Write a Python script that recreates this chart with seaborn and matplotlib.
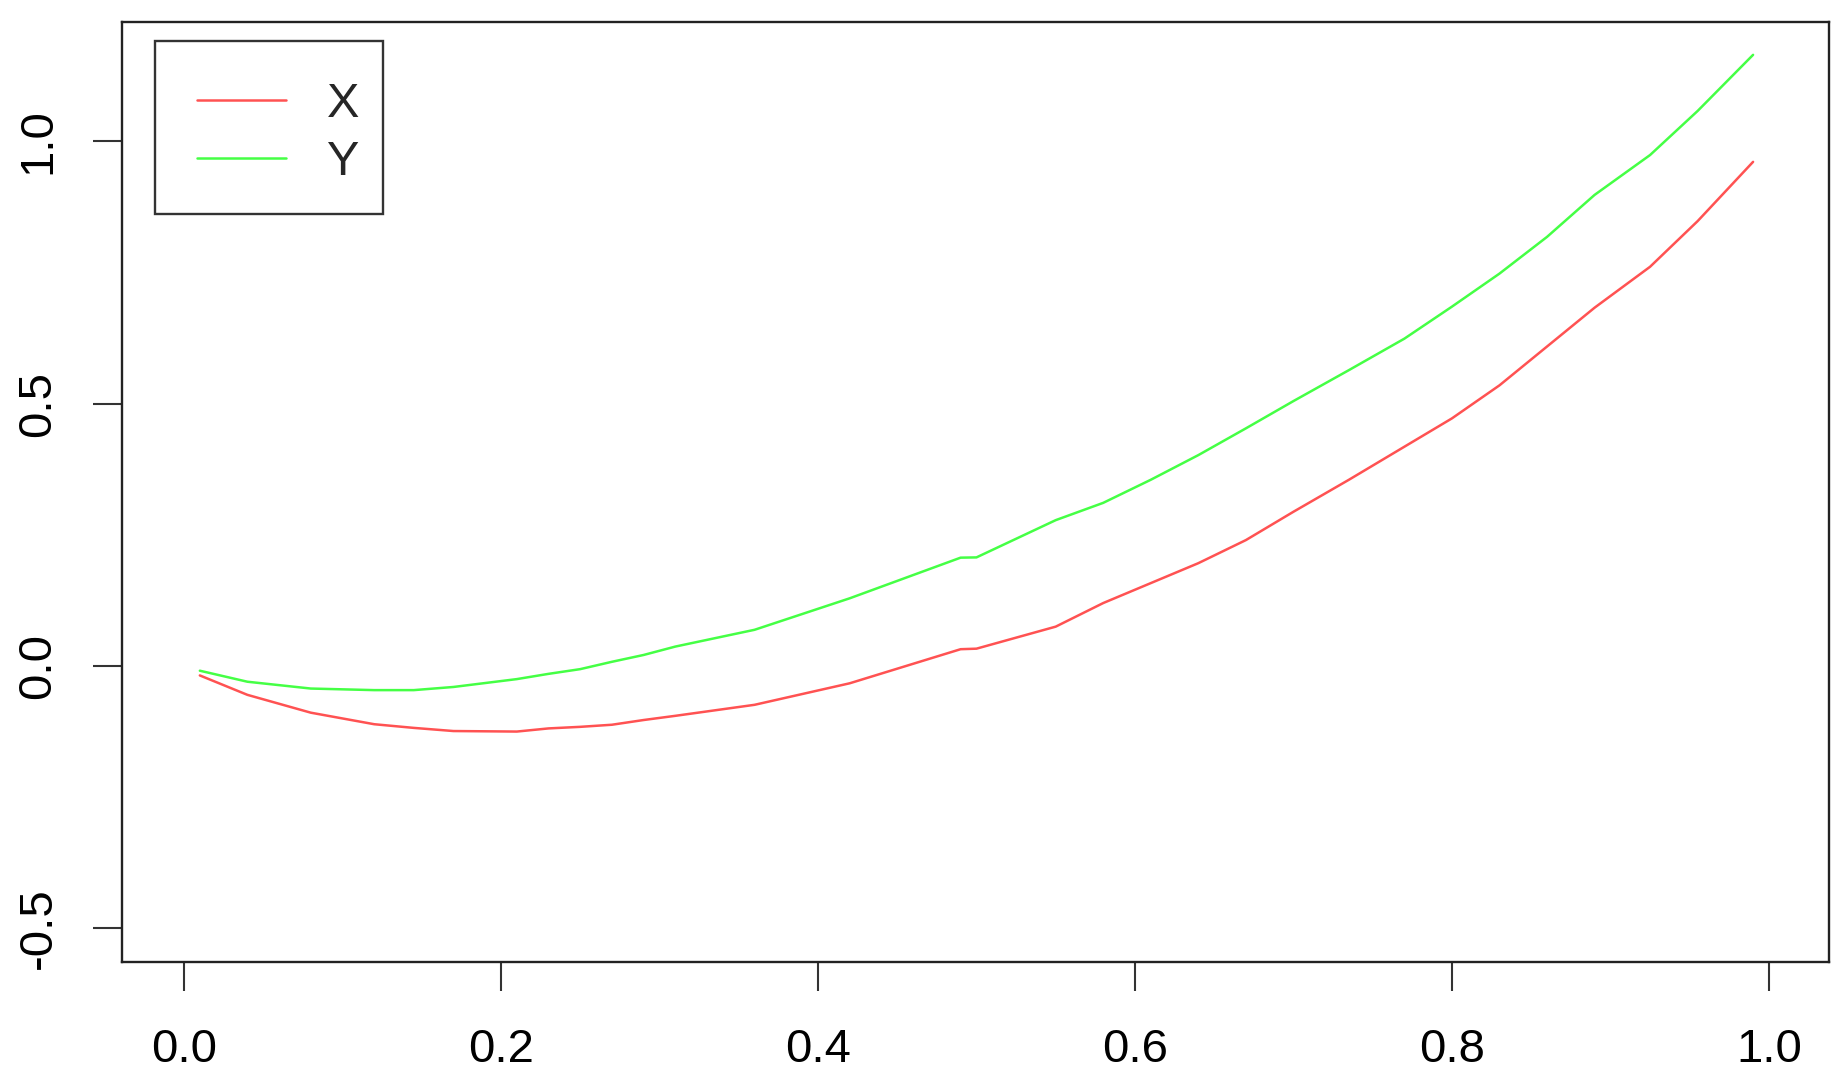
import numpy as np
import pandas as pd
import matplotlib
matplotlib.use("Agg")
import matplotlib.pyplot as plt
import seaborn as sns
from matplotlib.lines import Line2D
from matplotlib.patches import Rectangle

# ---- data ----
x_vals = [0.01, 0.04, 0.08, 0.12, 0.145, 0.17, 0.21, 0.23, 0.25, 0.27, 0.29, 0.31,
          0.36, 0.42, 0.49, 0.50, 0.55, 0.58, 0.61, 0.64, 0.67, 0.70, 0.735, 0.77,
          0.80, 0.83, 0.86, 0.89, 0.925, 0.955, 0.99]
x_series = [-0.018, -0.055, -0.089, -0.111, -0.118, -0.124, -0.125, -0.119, -0.116, -0.112,
            -0.103, -0.095, -0.074, -0.033, 0.032, 0.033, 0.075, 0.120, 0.158, 0.196,
            0.240, 0.294, 0.355, 0.418, 0.472, 0.535, 0.609, 0.683, 0.761, 0.848, 0.961]
y_series = [-0.009, -0.030, -0.043, -0.046, -0.046, -0.040, -0.025, -0.015, -0.006, 0.008,
            0.021, 0.037, 0.069, 0.129, 0.2065, 0.207, 0.278, 0.311, 0.355, 0.402,
            0.453, 0.505, 0.564, 0.624, 0.685, 0.748, 0.818, 0.898, 0.974, 1.058, 1.165]
series_names = ["X", "Y"]
x_ticks = [0.0, 0.2, 0.4, 0.6, 0.8, 1.0]
x_tick_labels = ["0.0", "0.2", "0.4", "0.6", "0.8", "1.0"]
y_ticks = [-0.5, 0.0, 0.5, 1.0]
y_tick_labels = ["-0.5", "0.0", "0.5", "1.0"]

df = pd.DataFrame({
    "x": x_vals * 2,
    "value": x_series + y_series,
    "series": [series_names[0]] * len(x_vals) + [series_names[1]] * len(x_vals),
})

sns.set_style("white")
plt.rcParams["font.family"] = ["Liberation Sans", "DejaVu Sans"]

W, H = 1847, 1086
fig = plt.figure(figsize=(W / 100, H / 100), dpi=100)
left, right, top, bottom = 121.7, 1829, 22, 961.7
ax = fig.add_axes([left / W, 1 - bottom / H, (right - left) / W, (bottom - top) / H])

palette = {"X": "#ff5252", "Y": "#45ff45"}
sns.lineplot(data=df, x="x", y="value", hue="series", palette=palette,
             linewidth=1.8, ax=ax, legend=False, sort=True, estimator=None)

ax.set_xlim(-0.0393, 1.0379)
ax.set_ylim(-0.5637, 1.2276)
ax.set_xlabel("")
ax.set_ylabel("")

ax.set_xticks(x_ticks)
ax.set_xticklabels(x_tick_labels)
ax.set_yticks(y_ticks)
ax.set_yticklabels(y_tick_labels, rotation=90, va="center")
ax.tick_params(axis="both", which="major", direction="out", length=21, width=1.5,
               color="#333333", labelsize=34, labelcolor="black", bottom=True, left=True)
ax.tick_params(axis="x", pad=27)
ax.tick_params(axis="y", pad=23)

for s in ax.spines.values():
    s.set_visible(True)
    s.set_color("#222222")
    s.set_linewidth(1.7)

# legend frame (R-style box)
lx0, ly0, lx1, ly1 = 155, 41, 383, 214
frame = Rectangle((lx0 / W, 1 - ly1 / H), (lx1 - lx0) / W, (ly1 - ly0) / H,
                  transform=fig.transFigure, facecolor="white", edgecolor="#333333",
                  linewidth=1.7, zorder=4, clip_on=False)
ax.add_patch(frame)

handles = [Line2D([0], [0], color=palette[n], lw=1.8) for n in series_names]
leg = ax.legend(handles, series_names, loc="upper left",
                bbox_to_anchor=(196.7 / W, 1 - 82 / H), bbox_transform=fig.transFigure,
                borderaxespad=0, fontsize=35, frameon=False, handlelength=1.83,
                handletextpad=0.85, labelspacing=0.27, borderpad=0)
leg.set_zorder(6)

fig.savefig("out.png", dpi=100)
